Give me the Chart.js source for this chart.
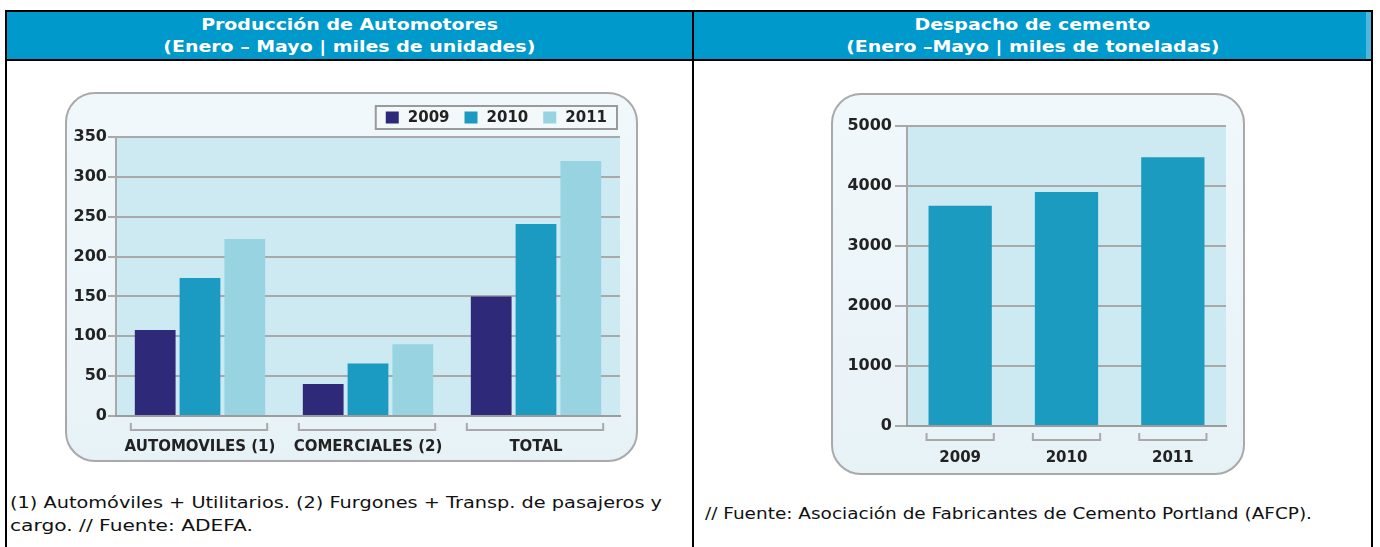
<!DOCTYPE html>
<html><head><meta charset="utf-8">
<script src="https://cdn.jsdelivr.net/npm/chart.js@4.4.1/dist/chart.umd.min.js"></script>
<style>
html,body{margin:0;padding:0;background:#fff;}
body{width:1380px;height:547px;position:relative;overflow:hidden;font-family:'DejaVu Sans',sans-serif;}
.abs{position:absolute;}
.bl{position:absolute;background:#000;}
.hrow{position:absolute;text-align:center;height:18px;line-height:18px;white-space:nowrap;}
.hdr{display:inline-block;color:#fff;font-weight:bold;font-size:15px;transform-origin:center center;}
.nrow{position:absolute;height:18px;line-height:18px;white-space:nowrap;}
.note{display:inline-block;color:#111;font-size:15px;transform-origin:left center;}
.panel{position:absolute;box-sizing:border-box;border:2px solid #a9a9a9;border-radius:30px;background:linear-gradient(#f1f8fb,#e7f2f7);}
canvas{position:absolute;}
</style></head><body>

<div class="abs" style="left:7px;top:12px;width:1364px;height:47px;background:#0099cc"></div>
<div class="abs" style="left:1366px;top:12px;width:5px;height:47px;background:#4db8dd"></div>
<div class="bl" style="left:5px;top:10px;width:1368px;height:2px"></div>
<div class="bl" style="left:5px;top:59px;width:1368px;height:2px"></div>
<div class="bl" style="left:5px;top:10px;width:2px;height:537px"></div>
<div class="bl" style="left:692px;top:10px;width:2px;height:537px"></div>
<div class="bl" style="left:1371px;top:10px;width:2px;height:537px"></div>

<div class="hrow" style="left:7px;width:685px;top:16px"><span class="hdr">Producción de Automotores</span></div>
<div class="hrow" style="left:7px;width:685px;top:38px"><span class="hdr" id="hRef">(Enero – Mayo | miles de unidades)</span></div>
<div class="hrow" style="left:694px;width:677px;top:16px"><span class="hdr">Despacho de cemento</span></div>
<div class="hrow" style="left:694px;width:677px;top:38px"><span class="hdr">(Enero –Mayo | miles de toneladas)</span></div>

<div class="panel" style="left:65px;top:92px;width:573px;height:370px"></div>
<canvas id="cAuto" width="573" height="370" style="left:65px;top:92px;width:573px;height:370px"></canvas>

<div class="panel" style="left:831px;top:93px;width:414px;height:382px"></div>
<canvas id="cCem" width="414" height="382" style="left:831px;top:93px;width:414px;height:382px"></canvas>

<div class="nrow" style="left:10px;top:494px"><span class="note" data-w="652">(1) Automóviles + Utilitarios. (2) Furgones + Transp. de pasajeros y</span></div>
<div class="nrow" style="left:10px;top:517px"><span class="note" data-w="243">cargo. // Fuente: ADEFA.</span></div>
<div class="nrow" style="left:705px;top:505px"><span class="note" data-w="607">// Fuente: Asociación de Fabricantes de Cemento Portland (AFCP).</span></div>

<script>
// ---- data ----
const autoCategories = ['AUTOMOVILES (1)', 'COMERCIALES (2)', 'TOTAL'];
const autoSeriesLabels = ['2009', '2010', '2011'];
const auto2009 = [108, 40, 150];
const auto2010 = [173, 66, 241];
const auto2011 = [222, 90, 320];
const autoYMax = 350;
const autoYStep = 50;

const cementCategories = ['2009', '2010', '2011'];
const cementValues = [3670, 3900, 4480];
const cementYMax = 5000;
const cementYStep = 1000;

// ---- text fitting ----
function fitGroup(sel, refId, target){
  const ref = document.getElementById(refId);
  const f = target / ref.getBoundingClientRect().width;
  document.querySelectorAll(sel).forEach(e => e.style.transform = 'scaleX(' + f + ')');
}
fitGroup('.hdr', 'hRef', 372);
document.querySelectorAll('.note').forEach(e => {
  const f = (+e.dataset.w) / e.getBoundingClientRect().width;
  e.style.transform = 'scaleX(' + f + ')';
});

// ---- plugins ----
const FONT = 'DejaVu Sans';
const plotBg = {
  id: 'plotBg',
  beforeDraw(chart, args, opts) {
    const { ctx, chartArea: a } = chart;
    ctx.save();
    ctx.fillStyle = opts.color;
    ctx.fillRect(a.left, a.top, a.right - a.left, a.bottom - a.top);
    ctx.restore();
  }
};
const brackets = {
  id: 'brackets',
  afterDraw(chart, args, opts) {
    const { ctx, chartArea: a } = chart;
    const n = chart.data.labels.length;
    ctx.save();
    ctx.strokeStyle = opts.color;
    ctx.lineWidth = 2;
    for (let i = 0; i < n; i++) {
      let l = Infinity, r = -Infinity;
      chart.data.datasets.forEach((ds, di) => {
        const el = chart.getDatasetMeta(di).data[i];
        if (!el) return;
        const p = el.getProps(['x', 'width'], true);
        l = Math.min(l, p.x - p.width / 2);
        r = Math.max(r, p.x + p.width / 2);
      });
      l -= opts.extL; r += opts.extR;
      const y = a.bottom + opts.offset;
      ctx.beginPath();
      ctx.moveTo(l, y - opts.h); ctx.lineTo(l, y); ctx.lineTo(r, y); ctx.lineTo(r, y - opts.h);
      ctx.stroke();
    }
    ctx.restore();
  }
};
const boxLegend = {
  id: 'boxLegend',
  afterDraw(chart, args, opts) {
    if (!opts || !opts.show) return;
    const { ctx, chartArea: a } = chart;
    ctx.save();
    ctx.font = 'bold 15px "' + FONT + '"';
    const ds = chart.data.datasets;
    let w = opts.pad * 2;
    ds.forEach((d, i) => { w += opts.box + opts.gap + ctx.measureText(d.label).width + (i < ds.length - 1 ? opts.itemGap : 0); });
    const h = opts.height;
    const x = a.right - opts.right - w;
    const y = a.top - opts.above - h;
    ctx.fillStyle = opts.bg; ctx.fillRect(x, y, w, h);
    ctx.strokeStyle = opts.border; ctx.lineWidth = 2; ctx.strokeRect(x, y, w, h);
    ctx.textBaseline = 'middle';
    let cx = x + opts.pad;
    const cy = y + h / 2;
    ds.forEach(d => {
      ctx.fillStyle = d.backgroundColor;
      ctx.fillRect(cx, cy - 6, opts.box, 12);
      cx += opts.box + opts.gap;
      ctx.fillStyle = '#222';
      ctx.fillText(d.label, cx, cy + 1);
      cx += ctx.measureText(d.label).width + opts.itemGap;
    });
    ctx.restore();
  }
};

const xFont = { family: FONT, size: 15, weight: 'bold' };
const yFont = { family: FONT, size: 16, weight: 'bold' };
const gridColor = '#a9a9a9';
const plainNum = v => String(v);

// ---- chart 1 ----
new Chart(document.getElementById('cAuto'), {
  type: 'bar',
  data: {
    labels: autoCategories,
    datasets: [
      { label: autoSeriesLabels[0], data: auto2009, backgroundColor: '#2e2a79' },
      { label: autoSeriesLabels[1], data: auto2010, backgroundColor: '#1b9bc1' },
      { label: autoSeriesLabels[2], data: auto2011, backgroundColor: '#98d3e1' }
    ]
  },
  options: {
    responsive: false, animation: false, devicePixelRatio: 1,
    layout: { padding: { top: 45, right: 18, bottom: 0, left: 0 } },
    datasets: { bar: { categoryPercentage: 0.80, barPercentage: 0.91 } },
    plugins: {
      legend: { display: false }, tooltip: { enabled: false },
      plotBg: { color: '#cde9f2' },
      brackets: { color: '#a9a9a9', offset: 14, h: 7, extL: 4, extR: 2 },
      boxLegend: { show: true, pad: 10, box: 13, gap: 9, itemGap: 15, height: 23, right: 3, above: 8, bg: '#f3f9fb', border: '#9a9a9a' }
    },
    scales: {
      y: {
        min: 0, max: autoYMax,
        ticks: { stepSize: autoYStep, font: yFont, color: '#222', padding: 1, callback: plainNum },
        grid: { color: gridColor, lineWidth: 2, tickLength: 8, drawTicks: true },
        border: { display: true, color: gridColor, width: 2 },
        afterFit(s) { s.width = 51; }
      },
      x: {
        ticks: { font: xFont, color: '#222', padding: 22, maxRotation: 0, autoSkip: false },
        grid: { display: false, drawTicks: false },
        border: { display: true, color: '#9c9c9c', width: 2 },
        afterFit(s) { s.height = 46; }
      }
    }
  },
  plugins: [plotBg, brackets, boxLegend]
});

// ---- chart 2 ----
new Chart(document.getElementById('cCem'), {
  type: 'bar',
  data: {
    labels: cementCategories,
    datasets: [
      { label: 'Despacho', data: cementValues, backgroundColor: '#1b9bbf' }
    ]
  },
  options: {
    responsive: false, animation: false, devicePixelRatio: 1,
    layout: { padding: { top: 33, right: 19, bottom: 0, left: 0 } },
    datasets: { bar: { categoryPercentage: 0.595, barPercentage: 1 } },
    plugins: {
      legend: { display: false }, tooltip: { enabled: false },
      plotBg: { color: '#cde9f2' },
      brackets: { color: '#a9a9a9', offset: 14, h: 7, extL: 2, extR: 2 },
      boxLegend: { show: false }
    },
    scales: {
      y: {
        min: 0, max: cementYMax,
        ticks: { stepSize: cementYStep, font: yFont, color: '#222', padding: 3, callback: plainNum },
        grid: { color: gridColor, lineWidth: 2, tickLength: 12, drawTicks: true },
        border: { display: true, color: gridColor, width: 2 },
        afterFit(s) { s.width = 76; }
      },
      x: {
        ticks: { font: xFont, color: '#222', padding: 23, maxRotation: 0, autoSkip: false },
        grid: { display: false, drawTicks: false },
        border: { display: true, color: '#9c9c9c', width: 2 },
        afterFit(s) { s.height = 49; }
      }
    }
  },
  plugins: [plotBg, brackets, boxLegend]
});
</script>
</body></html>
